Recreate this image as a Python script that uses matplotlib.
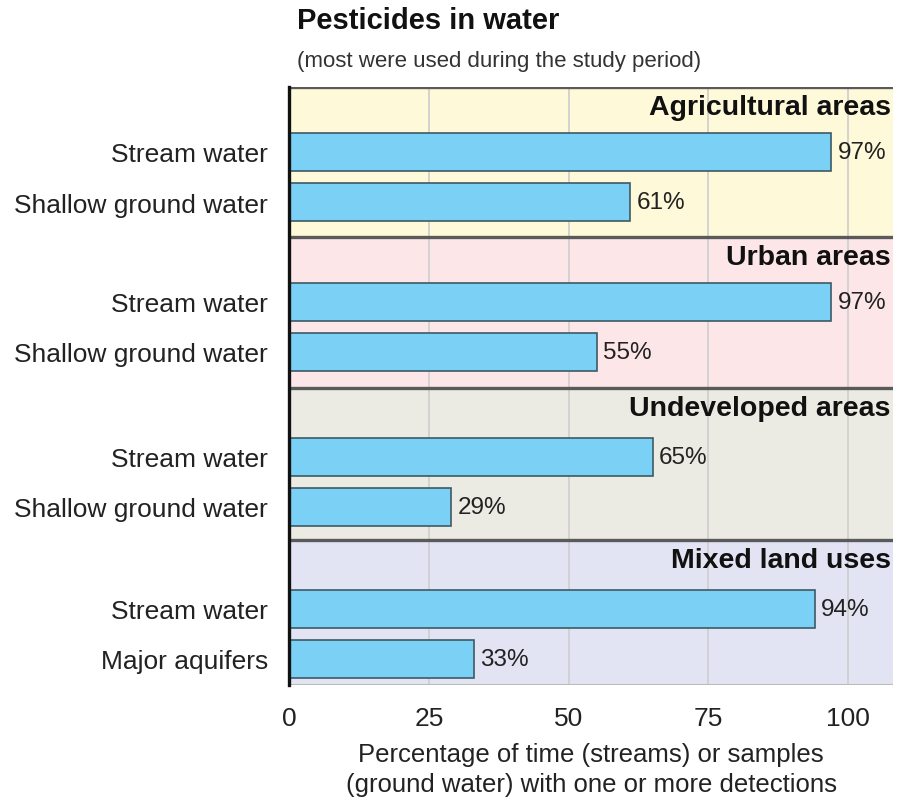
import matplotlib
matplotlib.use("Agg")
import matplotlib.pyplot as plt

plt.rcParams['font.family'] = ['Liberation Sans', 'DejaVu Sans']

sections = ['Agricultural areas', 'Urban areas', 'Undeveloped areas', 'Mixed land uses']
section_colors = ['#fdf9d9', '#fce6e8', '#ebeae3', '#e2e4f3']
bar_labels = [['Stream water', 'Shallow ground water'],
              ['Stream water', 'Shallow ground water'],
              ['Stream water', 'Shallow ground water'],
              ['Stream water', 'Major aquifers']]
values = [[97, 61], [97, 55], [65, 29], [94, 33]]
x_ticks = [0, 25, 50, 75, 100]

# vertical layout in pixel-like units (top of panel = 0)
section_tops = [0, 150, 301, 453]
panel_height = 598
bar_offsets = [65, 115]

fig = plt.figure(figsize=(9.02, 8.03), dpi=100)
ax = fig.add_axes([289 / 902, 1 - 686 / 803, 604 / 902, 598 / 803])
ax.set_xlim(0, 108)
ax.set_ylim(panel_height, 0)

bar_color = '#7bd0f5'
ytick_pos = []
ytick_lab = []
bounds = section_tops + [panel_height]
for s, name in enumerate(sections):
    top = bounds[s]
    ax.axhspan(top, bounds[s + 1], color=section_colors[s], zorder=0, lw=0)
    ax.axhline(top, color='#5a5a5a', lw=2.4, zorder=3)
    ax.text(107.6, top + 20, name, ha='right', va='center',
            fontsize=20.5, fontweight='bold', color='#111111', zorder=4)
    for i, v in enumerate(values[s]):
        y = top + bar_offsets[i] + (s >= 2) * 4
        ax.barh(y, v, height=38, color=bar_color, edgecolor='#3d5a66',
                lw=1.2, zorder=2)
        ax.text(v + 1.1, y, f'{v}%', ha='left', va='center', fontsize=17.5,
                color='#222222', zorder=4)
        ytick_pos.append(y)
        ytick_lab.append(bar_labels[s][i])

for t in x_ticks[1:]:
    ax.axvline(t, color='#d0d0d0', lw=1.3, zorder=1)
ax.axhline(panel_height, color='#bbbbbb', lw=1.5, zorder=3)

ax.set_yticks(ytick_pos)
ax.set_yticklabels(ytick_lab, fontsize=19, color='#222222')
ax.set_xticks(x_ticks)
ax.set_xticklabels([str(t) for t in x_ticks], fontsize=19, color='#222222')
ax.tick_params(length=0)
ax.tick_params(axis='x', pad=15)
ax.tick_params(axis='y', pad=15)

for side in ['top', 'right', 'bottom']:
    ax.spines[side].set_visible(False)
ax.spines['left'].set_color('#111111')
ax.spines['left'].set_linewidth(2.4)
ax.spines['left'].set_zorder(5)

ax.set_xlabel('Percentage of time (streams) or samples\n(ground water) with one or more detections',
              fontsize=18.5, color='#222222', labelpad=9, linespacing=1.3)

fig.text(297 / 902, 1 - 21 / 803, 'Pesticides in water', ha='left', va='center',
         fontsize=21, fontweight='bold', color='#111111')
fig.text(297 / 902, 1 - 62 / 803, '(most were used during the study period)', ha='left',
         va='center', fontsize=16, color='#333333')

fig.savefig('out.png', dpi=100)
